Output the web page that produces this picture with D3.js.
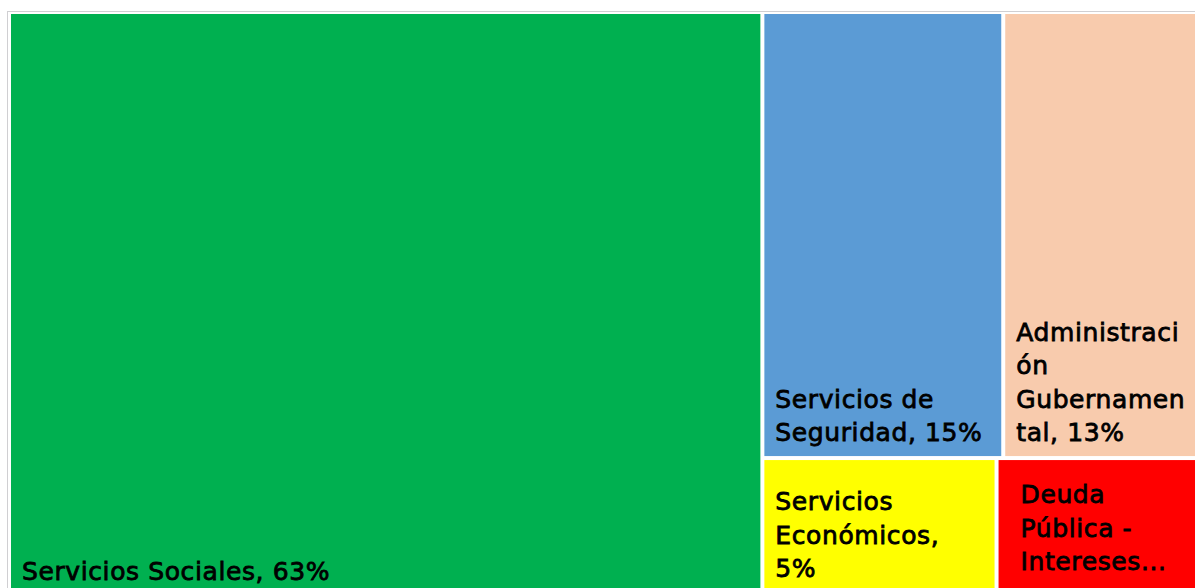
<!DOCTYPE html>
<html>
<head>
<meta charset="utf-8">
<script src="https://cdn.jsdelivr.net/npm/d3@7"></script>
<style>
  html, body { margin: 0; padding: 0; background: #fff; overflow: hidden; }
  svg { display: block; }
  text { font-family: "DejaVu Sans", Verdana, sans-serif; fill: #000; }
</style>
</head>
<body>
<svg width="1195" height="588"></svg>
<script>
// data (% of total)
var categories = ['Servicios Sociales', 'Servicios de Seguridad', 'Administración Gubernamental', 'Servicios Económicos', 'Deuda Pública - Intereses']
var values = [63, 15, 13, 5, 4.6]
var groups = ['left', 'top', 'top', 'bottom', 'bottom']
// label text as it is wrapped / cut in the picture
var labelLines = [
	['Servicios Sociales, 63%'],
	['Servicios de', 'Seguridad, 15%'],
	['Administraci', 'ón', 'Gubernamen', 'tal, 13%'],
	['Servicios', 'Económicos,', '5%'],
	['Deuda', 'Pública -', 'Intereses...']
]
var colors = ['#00b050', '#5b9bd5', '#f8cbad', '#ffff00', '#ff0000']

var svg = d3.select('svg')
var width = +svg.attr('width')
var height = +svg.attr('height')

// nested so slice/dice gives: big left block | (top row / bottom row)
var leaves = categories.map(function (c, i) {
	return { name: c, value: values[i], group: groups[i], lines: labelLines[i], color: colors[i] }
})
var tree = {
	name: 'root',
	children: [
		leaves[0],
		{ name: 'right', children: [
			{ name: 'top', children: leaves.filter(d => d.group == 'top') },
			{ name: 'bottom', children: leaves.filter(d => d.group == 'bottom') }
		] }
	]
}

var root = d3.hierarchy(tree).sum(d => d.children ? 0 : d.value)

d3.treemap()
	.tile(d3.treemapSliceDice)
	.paddingInner(4)
	.size([1199, 595])(root)

// chart frame
svg.append('rect')
	.attr('x', 7.5).attr('y', 11.5)
	.attr('width', width + 20).attr('height', height + 40)
	.attr('fill', '#fff')
	.attr('stroke', '#d0cfd2')

var plot = svg.append('g').attr('transform', 'translate(11,14)')

var cell = plot.selectAll('g.cell')
	.data(root.leaves())
	.enter()
	.append('g')
	.attr('class', 'cell')

cell.append('rect')
	.attr('x', d => d.x0)
	.attr('y', d => d.y0)
	.attr('width', d => d.x1 - d.x0)
	.attr('height', d => d.y1 - d.y0)
	.attr('fill', d => d.data.color)

// label padding (left, bottom) inside each cell
var labelPad = {
	'Servicios Sociales': [11, 29],
	'Servicios de Seguridad': [11, 15],
	'Administración Gubernamental': [11, 15],
	'Servicios Económicos': [11, 32],
	'Deuda Pública - Intereses': [22, 39]
}
var lineH = 33.5

cell.append('text')
	.attr('font-size', 25)
	.attr('letter-spacing', 0.6)
	.attr('stroke', '#000')
	.attr('stroke-width', 0.8)
	.each(function (d) {
		var pad = labelPad[d.data.name]
		var n = d.data.lines.length
		var t = d3.select(this)
		d.data.lines.forEach(function (l, i) {
			t.append('tspan')
				.attr('x', d.x0 + pad[0])
				.attr('y', d.y1 - pad[1] - (n - 1 - i) * lineH)
				.text(l)
		})
	})
</script>
</body>
</html>
